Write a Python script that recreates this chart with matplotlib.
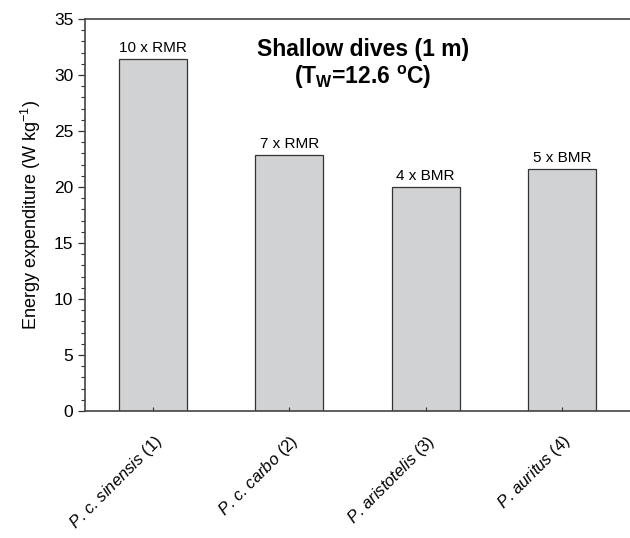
import matplotlib
matplotlib.use("Agg")
import matplotlib.pyplot as plt
from matplotlib.ticker import MultipleLocator

plt.rcParams['font.family'] = ['Liberation Sans', 'DejaVu Sans']
plt.rcParams['mathtext.fontset'] = 'custom'
plt.rcParams['mathtext.rm'] = 'Liberation Sans'
plt.rcParams['mathtext.it'] = 'Liberation Sans:italic'
plt.rcParams['mathtext.bf'] = 'Liberation Sans:bold'

# data
species = [r"$\mathit{P}$. $\mathit{c}$. $\mathit{sinensis}$ (1)",
           r"$\mathit{P}$. $\mathit{c}$. $\mathit{carbo}$ (2)",
           r"$\mathit{P}$. $\mathit{aristotelis}$ (3)",
           r"$\mathit{P}$. $\mathit{auritus}$ (4)"]
energy = [31.4, 22.85, 20.0, 21.6]
bar_notes = ["10 x RMR", "7 x RMR", "4 x BMR", "5 x BMR"]

fig = plt.figure(figsize=(6.3, 5.38), dpi=100)
ax = fig.add_axes([0.135, 0.236, 0.865, 0.7287])

xpos = [1, 2, 3, 4]
bars = ax.bar(xpos, energy, width=0.5, color='#d1d2d4', edgecolor='#333333', linewidth=0.9)
for b, note in zip(bars, bar_notes):
    ax.text(b.get_x() + b.get_width() / 2, b.get_height() + 0.35, note,
            ha='center', va='bottom', fontsize=11)

ax.set_xlim(0.5, 4.5)
ax.set_ylim(0, 35)
ax.yaxis.set_major_locator(MultipleLocator(5))
ax.yaxis.set_minor_locator(MultipleLocator(1))
ax.tick_params(axis='y', which='major', direction='out', length=5, width=0.9, labelsize=12.5, colors='#333333', labelcolor='black')
ax.tick_params(axis='y', which='minor', direction='out', length=3, width=0.8, colors='#333333')
ax.tick_params(axis='x', direction='in', length=3, width=0.8, colors='#333333', labelcolor='black', pad=15)

ax.set_xticks(xpos)
ax.set_xticklabels(species, rotation=45, ha='right', va='top', rotation_mode='anchor', fontsize=12)

ax.set_ylabel(r"Energy expenditure (W kg$^{-1}$)", fontsize=13, labelpad=8)

for s in ['left', 'top', 'bottom']:
    ax.spines[s].set_color('#444444')
    ax.spines[s].set_linewidth(1.2)
ax.spines['right'].set_visible(False)

ax.text(0.51, 0.923, "Shallow dives (1 m)", transform=ax.transAxes,
        ha='center', va='center', fontsize=16.5, fontweight='bold')
ax.text(0.51, 0.85, r"(T$_\mathbf{W}$=12.6 $^\mathbf{o}$C)", transform=ax.transAxes,
        ha='center', va='center', fontsize=16.5, fontweight='bold')

fig.savefig("out.png", dpi=100)
